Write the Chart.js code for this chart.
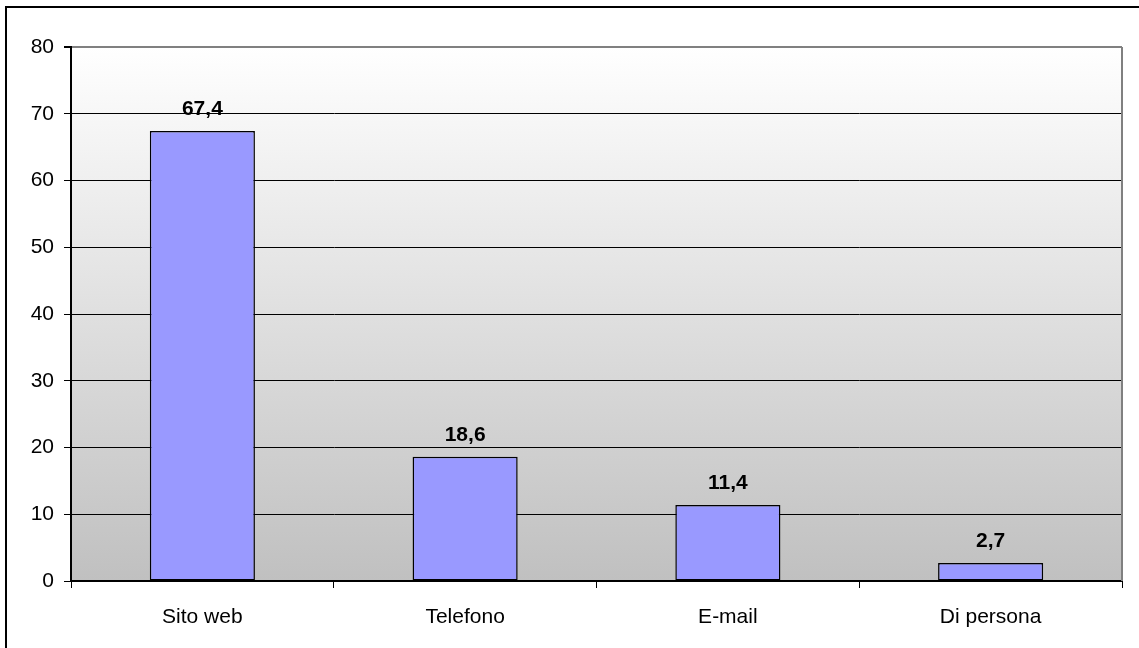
<!DOCTYPE html>
<html>
<head>
<meta charset="utf-8">
<script src="https://cdn.jsdelivr.net/npm/chart.js@4/dist/chart.umd.min.js"></script>
<style>
  html, body { margin: 0; padding: 0; background: #fff; }
  canvas { display: block; }
</style>
</head>
<body>
<canvas id="canali" width="1139" height="648"></canvas>
<script>
const categorie = ['Sito web', 'Telefono', 'E-mail', 'Di persona'];
const valori = [67.4, 18.6, 11.4, 2.7];
const yMin = 0;
const yMax = 80;
const yStep = 10;

const FONT = '"Liberation Sans", Arial, sans-serif';

// sfondo sfumato dell'area del grafico + cornici
const sfondo = {
    id: 'sfondo',
    beforeDraw(chart) {
        const { ctx, chartArea: a } = chart;
        ctx.save();
        const g = ctx.createLinearGradient(0, a.top, 0, a.bottom);
        g.addColorStop(0, '#ffffff');
        g.addColorStop(1, '#c0c0c0');
        ctx.fillStyle = g;
        ctx.fillRect(a.left, a.top, a.right - a.left, a.bottom - a.top);
        ctx.restore();
    },
    afterDraw(chart) {
        const { ctx, chartArea: a } = chart;
        ctx.save();
        // bordo destro grigio dell'area
        ctx.strokeStyle = '#808080';
        ctx.lineWidth = 2;
        ctx.beginPath();
        ctx.moveTo(a.right, a.top);
        ctx.lineTo(a.right, a.bottom);
        ctx.stroke();
        // cornice esterna
        ctx.strokeStyle = '#000';
        ctx.lineWidth = 2;
        ctx.strokeRect(6, 7, chart.width + 10, chart.height + 10);
        ctx.restore();
    }
};

// etichette dei valori sopra le barre
const etichette = {
    id: 'etichette',
    afterDatasetsDraw(chart) {
        const { ctx } = chart;
        const meta = chart.getDatasetMeta(0);
        ctx.save();
        ctx.font = 'bold 21px ' + FONT;
        ctx.fillStyle = '#000';
        ctx.textAlign = 'center';
        ctx.textBaseline = 'middle';
        meta.data.forEach((bar, i) => {
            const testo = valori[i].toFixed(1).replace('.', ',');
            ctx.fillText(testo, bar.x, bar.y - 22);
        });
        ctx.restore();
    }
};

new Chart(document.getElementById('canali'), {
    type: 'bar',
    data: {
        labels: categorie,
        datasets: [{
            data: valori,
            backgroundColor: '#9999ff',
            borderColor: '#000',
            borderWidth: 1.5,
            borderSkipped: false,
            barPercentage: 0.4,
            categoryPercentage: 1
        }]
    },
    options: {
        responsive: false,
        animation: false,
        layout: { padding: { left: 0, top: 47, right: 17, bottom: 0 } },
        plugins: {
            legend: { display: false },
            tooltip: { enabled: false }
        },
        scales: {
            x: {
                afterFit(s) { s.height = 67; },
                grid: {
                    offset: true,
                    drawOnChartArea: false,
                    drawTicks: true,
                    tickLength: 7,
                    color: '#000',
                    lineWidth: 1
                },
                border: { color: '#000', width: 2 },
                ticks: {
                    color: '#000',
                    padding: 17,
                    font: { family: FONT, size: 21 }
                }
            },
            y: {
                min: yMin,
                max: yMax,
                afterFit(s) { s.width = 71; },
                grid: {
                    color: ctx => ctx.tick && ctx.tick.value === yMax ? '#808080' : '#000',
                    lineWidth: ctx => ctx.tick && ctx.tick.value === yMax ? 2 : 1,
                    tickLength: 7,
                    tickColor: '#000'
                },
                border: { color: '#000', width: 2 },
                ticks: {
                    stepSize: yStep,
                    color: '#000',
                    padding: 10,
                    font: { family: FONT, size: 21 }
                }
            }
        }
    },
    plugins: [sfondo, etichette]
});
</script>
</body>
</html>
